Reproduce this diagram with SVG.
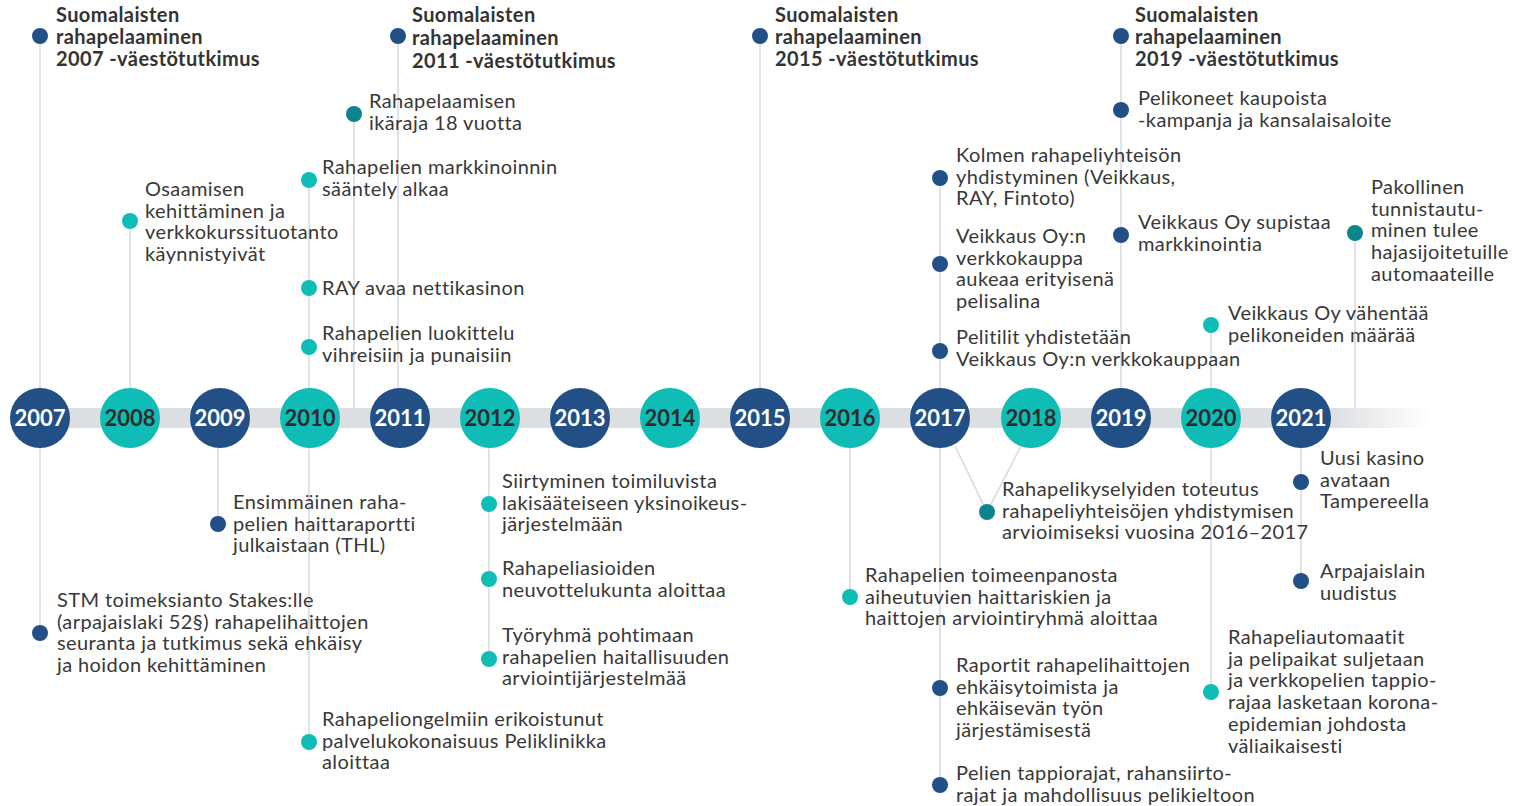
<svg xmlns="http://www.w3.org/2000/svg" width="1523" height="806" viewBox="0 0 1523 806">
<defs>
<linearGradient id="barg" x1="0" y1="0" x2="1430" y2="0" gradientUnits="userSpaceOnUse">
<stop offset="0" stop-color="#dcdfe2"/>
<stop offset="0.93" stop-color="#dcdfe2"/>
<stop offset="1" stop-color="#dcdfe2" stop-opacity="0"/>
</linearGradient>
<style>
.t{font-family:Lato,"Liberation Sans",sans-serif;font-size:20px;letter-spacing:0.4px;fill:#383838}
.b{font-weight:bold;fill:#333}
.y{font-family:Lato,"Liberation Sans",sans-serif;font-size:22px;font-weight:bold;text-anchor:middle}
.yw{fill:#fff}
.yd{fill:#2d2d2d}
.cb{fill:#214f86}
.ct{fill:#10bcb6}
.cd{fill:#0b848c}
.s{stroke:#d5d9de;stroke-width:1.5;fill:none}
</style>
</defs>
<rect width="1523" height="806" fill="#fff"/>
<g id="connectors">
<line class="s" x1="40" y1="36" x2="40" y2="633"/>
<line class="s" x1="130" y1="221" x2="130" y2="418"/>
<line class="s" x1="218" y1="418" x2="218" y2="524"/>
<line class="s" x1="309" y1="180" x2="309" y2="742"/>
<line class="s" x1="354" y1="114" x2="354" y2="410"/>
<line class="s" x1="398" y1="36" x2="398" y2="418"/>
<line class="s" x1="489" y1="418" x2="489" y2="659"/>
<line class="s" x1="760" y1="36" x2="760" y2="418"/>
<line class="s" x1="850" y1="418" x2="850" y2="597"/>
<line class="s" x1="940" y1="178" x2="940" y2="785"/>
<line class="s" x1="955" y1="446" x2="987" y2="512"/>
<line class="s" x1="1021" y1="446" x2="987" y2="512"/>
<line class="s" x1="1121" y1="36" x2="1121" y2="418"/>
<line class="s" x1="1211" y1="325" x2="1211" y2="692"/>
<line class="s" x1="1301" y1="418" x2="1301" y2="581"/>
<line class="s" x1="1355" y1="233" x2="1355" y2="410"/>
</g>
<rect id="bar" x="40" y="408" width="1390" height="20" fill="url(#barg)"/>
<g id="years">
<g id="y2007"><circle class="cb" cx="40" cy="418" r="30"/><text class="y yw" x="40" y="426">2007</text></g>
<g id="y2008"><circle class="ct" cx="130" cy="418" r="30"/><text class="y yd" x="130" y="426">2008</text></g>
<g id="y2009"><circle class="cb" cx="220" cy="418" r="30"/><text class="y yw" x="220" y="426">2009</text></g>
<g id="y2010"><circle class="ct" cx="310" cy="418" r="30"/><text class="y yd" x="310" y="426">2010</text></g>
<g id="y2011"><circle class="cb" cx="400" cy="418" r="30"/><text class="y yw" x="400" y="426">2011</text></g>
<g id="y2012"><circle class="ct" cx="490" cy="418" r="30"/><text class="y yd" x="490" y="426">2012</text></g>
<g id="y2013"><circle class="cb" cx="580" cy="418" r="30"/><text class="y yw" x="580" y="426">2013</text></g>
<g id="y2014"><circle class="ct" cx="670" cy="418" r="30"/><text class="y yd" x="670" y="426">2014</text></g>
<g id="y2015"><circle class="cb" cx="760" cy="418" r="30"/><text class="y yw" x="760" y="426">2015</text></g>
<g id="y2016"><circle class="ct" cx="850" cy="418" r="30"/><text class="y yd" x="850" y="426">2016</text></g>
<g id="y2017"><circle class="cb" cx="940" cy="418" r="30"/><text class="y yw" x="940" y="426">2017</text></g>
<g id="y2018"><circle class="ct" cx="1031" cy="418" r="30"/><text class="y yd" x="1031" y="426">2018</text></g>
<g id="y2019"><circle class="cb" cx="1121" cy="418" r="30"/><text class="y yw" x="1121" y="426">2019</text></g>
<g id="y2020"><circle class="ct" cx="1211" cy="418" r="30"/><text class="y yd" x="1211" y="426">2020</text></g>
<g id="y2021"><circle class="cb" cx="1301" cy="418" r="30"/><text class="y yw" x="1301" y="426">2021</text></g>
</g>
<g id="e1"><circle class="cb" cx="40" cy="36" r="8"/><text class="t b" x="56" y="22">Suomalaisten<tspan x="56" dy="22">rahapelaaminen</tspan><tspan x="56" dy="22">2007 -väestötutkimus</tspan></text></g>
<g id="e2"><circle class="cb" cx="398" cy="36" r="8"/><text class="t b" x="412" y="22">Suomalaisten<tspan x="412" dy="23">rahapelaaminen</tspan><tspan x="412" dy="23">2011 -väestötutkimus</tspan></text></g>
<g id="e3"><circle class="cb" cx="760" cy="36" r="8"/><text class="t b" x="775" y="22">Suomalaisten<tspan x="775" dy="22">rahapelaaminen</tspan><tspan x="775" dy="22">2015 -väestötutkimus</tspan></text></g>
<g id="e4"><circle class="cb" cx="1121" cy="36" r="8"/><text class="t b" x="1135" y="22">Suomalaisten<tspan x="1135" dy="22">rahapelaaminen</tspan><tspan x="1135" dy="22">2019 -väestötutkimus</tspan></text></g>
<g id="e5"><circle class="cd" cx="354" cy="114" r="8"/><text class="t" x="369" y="108">Rahapelaamisen<tspan x="369" dy="21.7">ikäraja 18 vuotta</tspan></text></g>
<g id="e6"><circle class="ct" cx="130" cy="221" r="8"/><text class="t" x="145" y="196">Osaamisen<tspan x="145" dy="21.7">kehittäminen ja</tspan><tspan x="145" dy="21.7">verkkokurssituotanto</tspan><tspan x="145" dy="21.7">käynnistyivät</tspan></text></g>
<g id="e7"><circle class="ct" cx="309" cy="180" r="8"/><text class="t" x="322" y="174">Rahapelien markkinoinnin<tspan x="322" dy="21.7">sääntely alkaa</tspan></text></g>
<g id="e8"><circle class="ct" cx="309" cy="288" r="8"/><text class="t" x="322" y="295">RAY avaa nettikasinon</text></g>
<g id="e9"><circle class="ct" cx="309" cy="347" r="8"/><text class="t" x="322" y="340">Rahapelien luokittelu<tspan x="322" dy="21.7">vihreisiin ja punaisiin</tspan></text></g>
<g id="e10"><circle class="cb" cx="940" cy="178" r="8"/><text class="t" x="956" y="162">Kolmen rahapeliyhteisön<tspan x="956" dy="21.7">yhdistyminen (Veikkaus,</tspan><tspan x="956" dy="21.7">RAY, Fintoto)</tspan></text></g>
<g id="e11"><circle class="cb" cx="940" cy="264" r="8"/><text class="t" x="956" y="243">Veikkaus Oy:n<tspan x="956" dy="21.7">verkkokauppa</tspan><tspan x="956" dy="21.7">aukeaa erityisenä</tspan><tspan x="956" dy="21.7">pelisalina</tspan></text></g>
<g id="e12"><circle class="cb" cx="940" cy="351" r="8"/><text class="t" x="956" y="344">Pelitilit yhdistetään<tspan x="956" dy="21.7">Veikkaus Oy:n verkkokauppaan</tspan></text></g>
<g id="e13"><circle class="cb" cx="1121" cy="110" r="8"/><text class="t" x="1138" y="105">Pelikoneet kaupoista<tspan x="1138" dy="21.7">-kampanja ja kansalaisaloite</tspan></text></g>
<g id="e14"><circle class="cb" cx="1121" cy="235" r="8"/><text class="t" x="1138" y="229">Veikkaus Oy supistaa<tspan x="1138" dy="21.7">markkinointia</tspan></text></g>
<g id="e15"><circle class="ct" cx="1211" cy="325" r="8"/><text class="t" x="1228" y="320">Veikkaus Oy vähentää<tspan x="1228" dy="21.7">pelikoneiden määrää</tspan></text></g>
<g id="e16"><circle class="cd" cx="1355" cy="233" r="8"/><text class="t" x="1371" y="194">Pakollinen<tspan x="1371" dy="21.7">tunnistautu-</tspan><tspan x="1371" dy="21.7">minen tulee</tspan><tspan x="1371" dy="21.7">hajasijoitetuille</tspan><tspan x="1371" dy="21.7">automaateille</tspan></text></g>
<g id="e17"><circle class="cb" cx="40" cy="633" r="8"/><text class="t" x="57" y="607">STM toimeksianto Stakes:lle<tspan x="57" dy="21.7">(arpajaislaki 52§) rahapelihaittojen</tspan><tspan x="57" dy="21.7">seuranta ja tutkimus sekä ehkäisy</tspan><tspan x="57" dy="21.7">ja hoidon kehittäminen</tspan></text></g>
<g id="e18"><circle class="cb" cx="218" cy="524" r="8"/><text class="t" x="233" y="509">Ensimmäinen raha-<tspan x="233" dy="21.7">pelien haittaraportti</tspan><tspan x="233" dy="21.7">julkaistaan (THL)</tspan></text></g>
<g id="e19"><circle class="ct" cx="309" cy="742" r="8"/><text class="t" x="322" y="726">Rahapeliongelmiin erikoistunut<tspan x="322" dy="21.7">palvelukokonaisuus Peliklinikka</tspan><tspan x="322" dy="21.7">aloittaa</tspan></text></g>
<g id="e20"><circle class="ct" cx="489" cy="504" r="8"/><text class="t" x="502" y="488">Siirtyminen toimiluvista<tspan x="502" dy="21.7">lakisääteiseen yksinoikeus-</tspan><tspan x="502" dy="21.7">järjestelmään</tspan></text></g>
<g id="e21"><circle class="ct" cx="489" cy="579" r="8"/><text class="t" x="502" y="575">Rahapeliasioiden<tspan x="502" dy="21.7">neuvottelukunta aloittaa</tspan></text></g>
<g id="e22"><circle class="ct" cx="489" cy="659" r="8"/><text class="t" x="502" y="642">Työryhmä pohtimaan<tspan x="502" dy="21.7">rahapelien haitallisuuden</tspan><tspan x="502" dy="21.7">arviointijärjestelmää</tspan></text></g>
<g id="e23"><circle class="ct" cx="850" cy="597" r="8"/><text class="t" x="865" y="582">Rahapelien toimeenpanosta<tspan x="865" dy="21.7">aiheutuvien haittariskien ja</tspan><tspan x="865" dy="21.7">haittojen arviointiryhmä aloittaa</tspan></text></g>
<g id="e24"><circle class="cd" cx="987" cy="512" r="8"/><text class="t" x="1002" y="496">Rahapelikyselyiden toteutus<tspan x="1002" dy="21.7">rahapeliyhteisöjen yhdistymisen</tspan><tspan x="1002" dy="21.7">arvioimiseksi vuosina 2016–2017</tspan></text></g>
<g id="e25"><circle class="cb" cx="940" cy="688" r="8"/><text class="t" x="956" y="672">Raportit rahapelihaittojen<tspan x="956" dy="21.7">ehkäisytoimista ja</tspan><tspan x="956" dy="21.7">ehkäisevän työn</tspan><tspan x="956" dy="21.7">järjestämisestä</tspan></text></g>
<g id="e26"><circle class="cb" cx="940" cy="785" r="8"/><text class="t" x="956" y="780">Pelien tappiorajat, rahansiirto-<tspan x="956" dy="21.7">rajat ja mahdollisuus pelikieltoon</tspan></text></g>
<g id="e27"><circle class="ct" cx="1211" cy="692" r="8"/><text class="t" x="1228" y="644">Rahapeliautomaatit<tspan x="1228" dy="21.7">ja pelipaikat suljetaan</tspan><tspan x="1228" dy="21.7">ja verkkopelien tappio-</tspan><tspan x="1228" dy="21.7">rajaa lasketaan korona-</tspan><tspan x="1228" dy="21.7">epidemian johdosta</tspan><tspan x="1228" dy="21.7">väliaikaisesti</tspan></text></g>
<g id="e28"><circle class="cb" cx="1301" cy="482" r="8"/><text class="t" x="1320" y="465">Uusi kasino<tspan x="1320" dy="21.7">avataan</tspan><tspan x="1320" dy="21.7">Tampereella</tspan></text></g>
<g id="e29"><circle class="cb" cx="1301" cy="581" r="8"/><text class="t" x="1320" y="578">Arpajaislain<tspan x="1320" dy="21.7">uudistus</tspan></text></g>
</svg>
